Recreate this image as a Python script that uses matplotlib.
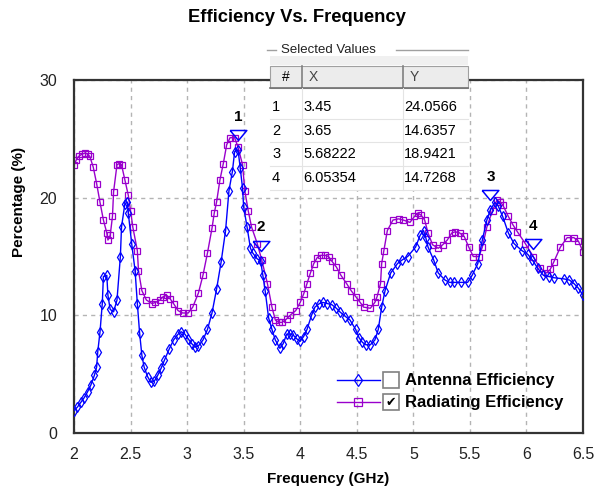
import matplotlib
matplotlib.use('Agg')
import matplotlib.pyplot as plt
from matplotlib.patches import Rectangle
from matplotlib.transforms import offset_copy
import numpy as np

plt.rcParams['font.family'] = ['Liberation Sans', 'DejaVu Sans']

# ---- data ----
freq_ant = [2.00, 2.03, 2.06, 2.09, 2.12, 2.15, 2.18, 2.20, 2.21, 2.23, 2.25, 2.26,
            2.29, 2.30, 2.32, 2.35, 2.38, 2.41, 2.42, 2.45, 2.47, 2.48, 2.51, 2.54,
            2.56, 2.58, 2.60, 2.62, 2.65, 2.68, 2.71, 2.74, 2.77, 2.80, 2.84, 2.88,
            2.92, 2.95, 2.98, 3.01, 3.04, 3.07, 3.10, 3.14, 3.18, 3.22, 3.26, 3.30,
            3.34, 3.37, 3.40, 3.42, 3.45, 3.47, 3.49, 3.50, 3.53, 3.56, 3.58, 3.62,
            3.65, 3.67, 3.69, 3.72, 3.75, 3.78, 3.82, 3.85, 3.88, 3.91, 3.94, 3.97,
            4.00, 4.03, 4.06, 4.10, 4.13, 4.17, 4.20, 4.24, 4.28, 4.32, 4.35, 4.40,
            4.44, 4.49, 4.52, 4.55, 4.58, 4.62, 4.66, 4.69, 4.72, 4.75, 4.80, 4.86,
            4.90, 4.95, 5.02, 5.06, 5.09, 5.11, 5.13, 5.18, 5.22, 5.28, 5.32, 5.36,
            5.42, 5.48, 5.52, 5.57, 5.61, 5.65, 5.68, 5.72, 5.75, 5.79, 5.84, 5.89,
            5.96, 6.01, 6.05, 6.10, 6.15, 6.20, 6.24, 6.33, 6.38, 6.42, 6.46, 6.50]
eff_ant = [1.9, 2.2, 2.6, 3.0, 3.5, 4.1, 4.9, 5.6, 6.9, 8.6, 11.0, 13.3,
           13.4, 11.7, 10.5, 10.3, 11.3, 15.0, 17.5, 19.5, 19.6, 18.7, 16.1, 13.8,
           11.0, 8.5, 6.6, 5.6, 4.8, 4.3, 4.4, 4.9, 5.5, 6.2, 7.1, 7.9,
           8.4, 8.6, 8.4, 8.0, 7.6, 7.3, 7.4, 7.9, 8.8, 10.2, 12.2, 14.5,
           17.2, 20.6, 22.2, 23.9, 24.06, 22.5, 20.8, 19.2, 17.5, 15.7, 15.3, 14.8,
           14.64, 13.4, 12.1, 9.8, 8.8, 7.9, 7.2, 7.6, 8.4, 8.4, 8.3, 8.0,
           7.8, 8.2, 8.8, 10.0, 10.7, 11.0, 11.1, 11.0, 10.9, 10.6, 10.3, 9.9,
           9.6, 8.8, 8.1, 7.7, 7.5, 7.5, 7.9, 8.8, 10.7, 12.1, 13.6, 14.4,
           14.7, 15.0, 15.8, 16.8, 17.2, 16.6, 15.8, 14.7, 13.6, 13.0, 12.8, 12.8,
           12.8, 12.8, 13.4, 14.4, 16.4, 18.1, 18.94, 19.6, 19.3, 18.4, 17.0, 16.1,
           15.5, 15.2, 14.73, 14.0, 13.4, 13.3, 13.2, 13.1, 13.0, 12.7, 12.3, 11.7]

freq_rad = [2.00, 2.02, 2.04, 2.07, 2.10, 2.12, 2.14, 2.17, 2.20, 2.23, 2.26, 2.29,
            2.30, 2.32, 2.34, 2.35, 2.38, 2.40, 2.42, 2.45, 2.48, 2.50, 2.52, 2.56,
            2.57, 2.60, 2.64, 2.69, 2.72, 2.76, 2.79, 2.82, 2.85, 2.88, 2.92, 2.96,
            3.01, 3.05, 3.10, 3.14, 3.18, 3.22, 3.24, 3.26, 3.29, 3.32, 3.35, 3.38,
            3.42, 3.45, 3.49, 3.51, 3.54, 3.57, 3.62, 3.66, 3.71, 3.75, 3.78, 3.81,
            3.84, 3.88, 3.91, 3.96, 4.00, 4.03, 4.06, 4.09, 4.12, 4.15, 4.18, 4.22,
            4.25, 4.28, 4.32, 4.36, 4.41, 4.45, 4.49, 4.53, 4.56, 4.62, 4.66, 4.68,
            4.71, 4.72, 4.74, 4.77, 4.82, 4.87, 4.91, 4.97, 5.01, 5.04, 5.07, 5.10,
            5.13, 5.17, 5.22, 5.26, 5.30, 5.34, 5.37, 5.41, 5.45, 5.49, 5.53, 5.58,
            5.61, 5.65, 5.70, 5.74, 5.77, 5.79, 5.84, 5.88, 5.92, 5.99, 6.06, 6.12,
            6.18, 6.21, 6.24, 6.30, 6.36, 6.42, 6.46, 6.50]
eff_rad = [22.8, 23.2, 23.5, 23.7, 23.8, 23.7, 23.5, 22.6, 21.2, 19.6, 18.1, 17.0,
           16.4, 16.8, 18.4, 20.5, 22.8, 22.9, 22.8, 21.5, 20.2, 18.9, 17.5, 15.5,
           13.8, 12.1, 11.3, 11.0, 11.1, 11.3, 11.6, 11.7, 11.4, 11.0, 10.4, 10.2,
           10.2, 10.7, 11.9, 13.4, 15.3, 17.4, 18.7, 19.6, 21.5, 22.9, 24.5, 25.1,
           25.1, 24.3, 22.8, 20.6, 18.9, 17.5, 16.1, 14.7, 12.7, 10.7, 9.6, 9.4,
           9.4, 9.7, 10.0, 10.4, 11.1, 11.8, 12.7, 13.6, 14.4, 14.9, 15.1, 15.1,
           15.0, 14.6, 14.1, 13.4, 12.7, 12.1, 11.6, 11.1, 10.7, 10.6, 11.1, 11.6,
           12.7, 14.4, 15.5, 17.2, 18.1, 18.2, 18.1, 17.9, 18.4, 18.7, 18.5, 18.1,
           17.0, 16.0, 15.7, 16.0, 16.4, 17.0, 17.1, 17.0, 16.7, 15.8, 15.0, 15.0,
           15.8, 17.5, 18.9, 19.8, 19.6, 19.4, 18.4, 17.7, 17.1, 16.1, 15.0, 14.0,
           13.6, 13.9, 14.5, 15.8, 16.6, 16.6, 16.3, 15.4]

sel_ids = ['1', '2', '3', '4']
sel_x = [3.45, 3.65, 5.68222, 6.05354]
sel_y = [24.0566, 14.6357, 18.9421, 14.7268]
sel_x_txt = ['3.45', '3.65', '5.68222', '6.05354']
sel_y_txt = ['24.0566', '14.6357', '18.9421', '14.7268']

x_ticks = [2, 2.5, 3, 3.5, 4, 4.5, 5, 5.5, 6, 6.5]
x_ticklabels = ['2', '2.5', '3', '3.5', '4', '4.5', '5', '5.5', '6', '6.5']
y_ticks = [0, 10, 20, 30]

BLUE = '#0000ff'
PURPLE = '#9900cc'

W, H = 595, 492
fig = plt.figure(figsize=(W / 100, H / 100), dpi=100)
# axes box in pixels: left 74, right 583, top 80, bottom 433
ax = fig.add_axes([74 / W, 1 - 433 / H, (583 - 74) / W, (433 - 80) / H])

ax.plot(freq_ant, eff_ant, color=BLUE, lw=1, marker='d', ms=5.5, mfc='none',
        mec=BLUE, mew=0.9, zorder=3)
ax.plot(freq_rad, eff_rad, color=PURPLE, lw=1, marker='s', ms=5, mfc='none',
        mec=PURPLE, mew=0.9, zorder=2)

# selection markers (drawn a little above the picked point)
tri = [(-1, 0.6), (1, 0.6), (0, -0.6), (-1, 0.6)]
tri_tr = offset_copy(ax.transData, fig=fig, y=11, units='points')
lab_tr = offset_copy(ax.transData, fig=fig, y=19, units='points')
for i in range(len(sel_x)):
    ax.plot(sel_x[i], sel_y[i], marker=tri, ms=12, mfc='none', mec=BLUE,
            mew=1.1, transform=tri_tr, zorder=5, clip_on=False)
    ax.text(sel_x[i], sel_y[i], sel_ids[i], transform=lab_tr, ha='center',
            va='bottom', fontsize=11, fontweight='bold', zorder=6)

ax.set_xlim(2, 6.5)
ax.set_ylim(0, 30)
ax.set_xticks(x_ticks)
ax.set_xticklabels(x_ticklabels)
ax.set_yticks(y_ticks)
ax.tick_params(length=0, labelsize=11.5, labelcolor='#222222')
ax.tick_params(axis='x', pad=10)
ax.tick_params(axis='y', pad=12)
ax.grid(True, color='#b4b4b4', ls=(0, (3, 3)), lw=1)
ax.set_axisbelow(True)
for s in ax.spines.values():
    s.set_linewidth(1.6)
    s.set_color('#333333')

# title and axis labels
fig.text(297 / W, 1 - 18 / H, 'Efficiency Vs. Frequency', ha='center',
         va='center', fontsize=13.2, fontweight='bold')
fig.text(328 / W, 1 - 479 / H, 'Frequency (GHz)', ha='center', va='center',
         fontsize=11, fontweight='bold')
fig.text(19 / W, 1 - 202 / H, 'Percentage (%)', ha='center', va='center',
         rotation=90, fontsize=11, fontweight='bold')

# overlay in pixel coordinates for the table and legend
ov = fig.add_axes([0, 0, 1, 1], zorder=10)
ov.set_xlim(0, W)
ov.set_ylim(H, 0)
ov.axis('off')

# "Selected Values" table
tx0, tx1 = 270, 468
c1, c2 = 302, 403
ov.add_patch(Rectangle((tx0, 40), tx1 - tx0, 150, fc='white', ec='none'))
ov.add_patch(Rectangle((tx0, 56), tx1 - tx0, 9, fc='#f0f0f0', ec='none'))
ov.plot([tx0 - 3, 276], [50, 50], color='#a0a0a0', lw=1)
ov.plot([396, tx1], [50, 50], color='#a0a0a0', lw=1)
ov.text(281, 50, 'Selected Values', ha='left', va='center', fontsize=9.5,
        color='#222222')
ov.add_patch(Rectangle((tx0, 66), tx1 - tx0, 22, fc='#ececec', ec='#a0a0a0', lw=0.8))
for cx in (c1, c2):
    ov.plot([cx, cx], [66, 88], color='#808080', lw=1.2)
ov.plot([tx0, tx1], [88, 88], color='#707070', lw=1.2)
ov.text((tx0 + c1) / 2, 77, '#', ha='center', va='center', fontsize=10)
ov.text(c1 + 7, 77, 'X', ha='left', va='center', fontsize=10, color='#444444')
ov.text(c2 + 7, 77, 'Y', ha='left', va='center', fontsize=10, color='#444444')
row_h = 23.6
for i in range(len(sel_ids)):
    yc = 107 + i * row_h
    ov.text(tx0 + 2, yc, sel_ids[i], ha='left', va='center', fontsize=10.5)
    ov.text(c1 + 1, yc, sel_x_txt[i], ha='left', va='center', fontsize=10.5)
    ov.text(c2 + 1, yc, sel_y_txt[i], ha='left', va='center', fontsize=10.5)
    ov.plot([tx0, tx1], [yc + row_h / 2, yc + row_h / 2], color='#e4e4e4', lw=0.8)
for cx in (c1, c2):
    ov.plot([cx, cx], [88, 107 + 3.5 * row_h], color='#e4e4e4', lw=0.8)

# legend
leg_rows = [(380, BLUE, 'd', 6, 'Antenna Efficiency', False),
            (402, PURPLE, 's', 5.5, 'Radiating Efficiency', True)]
for yc, col, mk, ms, name, checked in leg_rows:
    ov.plot([337, 380], [yc, yc], color=col, lw=1)
    ov.plot([358], [yc], marker=mk, ms=ms, mfc='none', mec=col, mew=0.9, color=col)
    ov.add_patch(Rectangle((383, yc - 8), 16, 16, fc='white', ec='#808080', lw=1.2))
    if checked:
        ov.text(391, yc + 0.5, '\u2714', ha='center', va='center', fontsize=9,
                family='DejaVu Sans')
    ov.text(405, yc, name, ha='left', va='center', fontsize=12, fontweight='bold')

fig.savefig('out.png', dpi=100)
